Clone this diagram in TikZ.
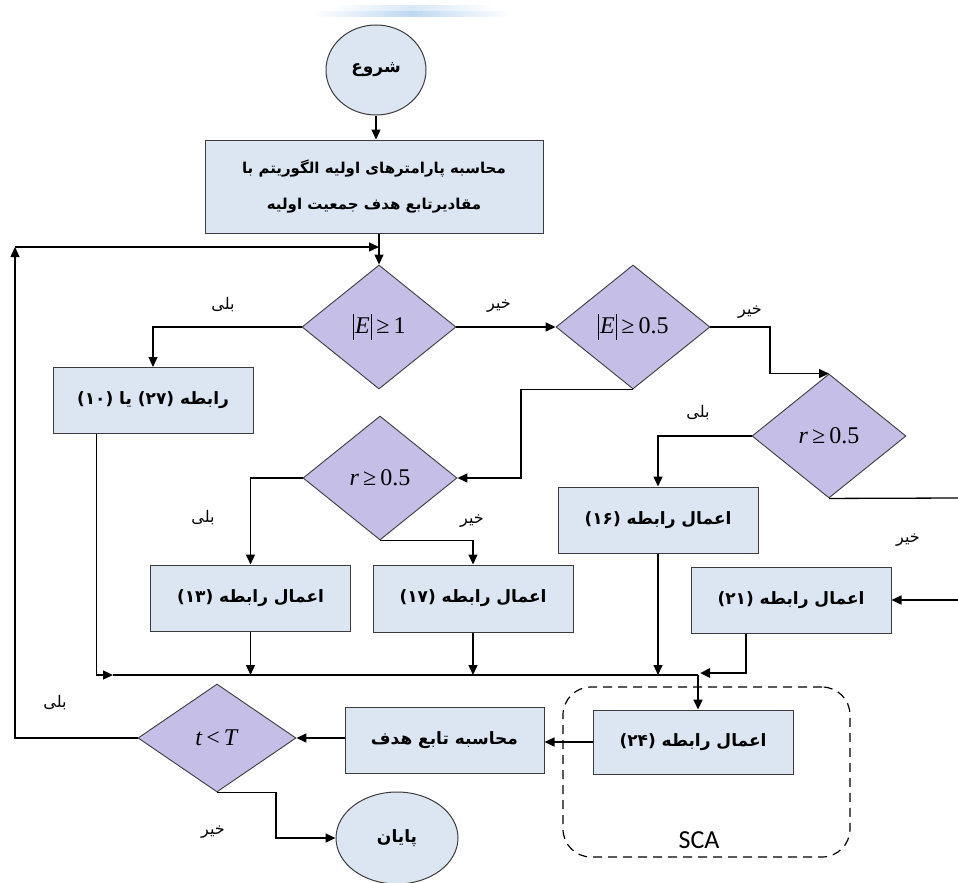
\documentclass[tikz,border=0pt]{standalone}
\usepackage{fontspec}
\usetikzlibrary{shapes.geometric,arrows.meta}
\TeXXeTstate=1
\newfontfamily\fa[Script=Arabic]{DejaVu Sans}
\newfontfamily\tms{Liberation Serif}
\newfontfamily\carl{Carlito}
\newcommand\FA[1]{{\fa\beginR #1\endR}}
\newcommand\vb{\kern1pt\rule[-0.25em]{0.6pt}{1.05em}\kern1pt}
\definecolor{boxfill}{RGB}{220,230,242}
\definecolor{dfill}{RGB}{197,190,230}
\definecolor{edgec}{RGB}{60,60,60}
\definecolor{barc}{RGB}{190,216,242}
\tikzset{
  pbox/.style={draw=edgec, line width=1pt, fill=boxfill, minimum width=200pt, minimum height=66pt, inner sep=0pt, align=center, font=\fa\bfseries\fontsize{17}{20}\selectfont},
  dec/.style={diamond, draw=edgec, line width=0.9pt, fill=dfill, minimum width=154pt, minimum height=124pt, inner sep=0pt, font=\tms\fontsize{24}{26}\selectfont},
  term/.style={ellipse, draw=edgec, line width=1pt, fill=boxfill, inner sep=0pt, font=\fa\bfseries\fontsize{17}{20}\selectfont},
  arr/.style={line width=1.3pt, -{Triangle[length=10pt,width=9pt]}},
  ln/.style={line width=1.3pt},
  mainline/.style={line width=2.6pt},
  lbl/.style={font=\fa\fontsize{16}{18}\selectfont, inner sep=0pt},
}
\begin{document}
\begin{tikzpicture}[x=1pt,y=-1pt]
\useasboundingbox (0,0) rectangle (958,883);
% top decorative bar
\shade[left color=white, right color=white, middle color=barc!60] (330,6) rectangle (495,12);
\shade[left color=white, right color=white, middle color=barc] (313,12) rectangle (510,17);

% SCA container
\node[draw=black, dashed, dash pattern=on 9pt off 6pt, line width=1.2pt, rounded corners=28pt, minimum width=287pt, minimum height=170pt, inner sep=0pt] (scabox) at (706.5,772) {};
\node[font=\carl\fontsize{26}{28}\selectfont, inner sep=0pt] (sca) at (699,840) {SCA};

% nodes
\node[term, minimum width=100pt, minimum height=90pt] (start) at (376,70) {\FA{شروع}};
\node[pbox, minimum width=338pt, minimum height=93pt, font=\fa\bfseries\fontsize{15}{18}\selectfont] (box1) at (374,186.5) {\FA{محاسبه پارامترهای اولیه الگوریتم با}\\[18pt]\FA{مقادیرتابع هدف جمعیت اولیه}};
\node[dec] (d1) at (379,327) {\vb\textit{E}\vb\,≥\,1};
\node[dec] (d2) at (633,327) {\vb\textit{E}\vb\,≥\,0.5};
\node[dec] (d3) at (829,436) {\textit{r}\,≥\,0.5};
\node[dec] (d4) at (380,478) {\textit{r}\,≥\,0.5};
\node[pbox] (box2) at (153,400.5) {\FA{رابطه (۲۷) یا (۱۰)}};
\node[pbox] (box13) at (250.5,598) {\FA{اعمال رابطه (۱۳)}};
\node[pbox, minimum height=67pt] (box17) at (473,598.5) {\FA{اعمال رابطه (۱۷)}};
\node[pbox] (box16) at (658,520) {\FA{اعمال رابطه (۱۶)}};
\node[pbox] (box21) at (791,600) {\FA{اعمال رابطه (۲۱)}};
\node[pbox, minimum height=64pt] (box24) at (693,742) {\FA{اعمال رابطه (۲۴)}};
\node[pbox, minimum width=199pt] (boxobj) at (444.5,740) {\FA{محاسبه تابع هدف}};
\node[dec, minimum width=158pt, minimum height=108pt] (d5) at (217,738) {\textit{t}\,<\,\textit{T}};
\node[term, minimum width=122pt, minimum height=92pt] (end) at (397,838) {\FA{پایان}};

% labels
\node[lbl] (l1) at (223,305) {\FA{بلی}};
\node[lbl] (l2) at (499,306) {\FA{خیر}};
\node[lbl] (l3) at (750,312) {\FA{خیر}};
\node[lbl] (l4) at (698,413) {\FA{بلی}};
\node[lbl] (l5) at (203,518) {\FA{بلی}};
\node[lbl] (l6) at (472,521) {\FA{خیر}};
\node[lbl] (l7) at (908,540) {\FA{خیر}};
\node[lbl] (l8) at (55,703) {\FA{بلی}};
\node[lbl] (l9) at (213,832) {\FA{خیر}};

% coordinates
\coordinate (fbL) at (15,247);
\coordinate (eR1) at (958,498);
\coordinate (eR2) at (958,600);
\coordinate (mA) at (113,675);
\coordinate (mB) at (698,675);
\coordinate (mC) at (700,673);

% connectors
\draw[arr] (start.south) -- (start.south |- box1.north);
\draw[arr] (box1.south -| d1.north) -- (d1.north);
\draw[arr] (d5.west) -| (fbL);
\draw[arr] (fbL) -- (fbL -| d1.north);
\draw[arr] (d1.west) -| (box2.north);
\draw[arr] (d1.east) -- (d2.west);
\draw[arr] (d2.east) -| ([xshift=-59pt]d3.north) -- (d3.north);
\draw[arr] (d2.south) -- ++(-112,0) |- (d4.east);
\draw[arr] (d3.west) -| (box16.north);
\draw[ln] (d3.south) -- (eR1);
\draw[arr] (eR2) -- (box21.east);
\draw[arr] (d4.west) -| (box13.north);
\draw[arr] (d4.south) -| (box17.north);
\draw[arr] ([xshift=44pt]box2.south west) |- (mA);
\draw[mainline] (mA) -- (mB);
\draw[arr] (box13.south) -- (box13.south |- mA);
\draw[arr] (box17.south) -- (box17.south |- mA);
\draw[arr] (box16.south) -- (box16.south |- mA);
\draw[arr, line width=2.6pt] ([xshift=-45pt]box21.south) |- (mC);
\draw[arr, line width=2.2pt] (mB) -- (mB |- box24.north);
\draw[arr] (box24.west) -- (box24.west -| boxobj.east);
\draw[arr] (boxobj.west |- d5.east) -- (d5.east);
\draw[arr] (d5.south) -- ++(59,0) |- (end.west);
\end{tikzpicture}
\end{document}
